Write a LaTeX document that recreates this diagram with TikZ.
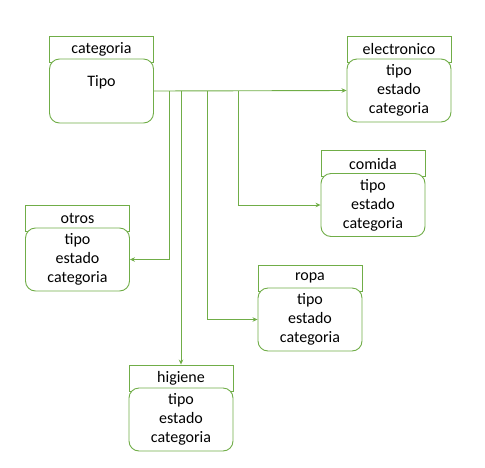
\documentclass[tikz,border=0pt]{standalone}
\usepackage{fontspec}
\setmainfont{Carlito}
\usepackage{xcolor}
\usetikzlibrary{arrows.meta}
\definecolor{verde}{HTML}{70AD47}
\tikzset{
  cabecera/.style={draw=verde, line width=0.9pt, fill=white, minimum width=104pt, minimum height=26pt, inner sep=0pt},
  cuerpo/.style={draw=verde, line width=0.9pt, fill=white, rounded corners=10pt, minimum width=104pt, minimum height=63pt, align=center, inner sep=0pt},
  enlace/.style={draw=verde, line width=0.9pt, -{Stealth[length=5pt,width=4.5pt]}}
}
\begin{document}
\begin{tikzpicture}[x=1pt, y=-1pt, font=\fontsize{16}{19}\selectfont]
        \useasboundingbox (0,0) rectangle (485,467);
        \node[cabecera] (hcat) at (101.5,49) {categoria};
        \node[cuerpo, minimum height=64pt] (cat) at (101.5,91) {};
        \node[anchor=north] (tipo) at (101.5,72) {Tipo};
        \foreach \nom/\x/\y/\titulo in {elec/399/90.5/electronico, comida/373/205/comida, otros/77.5/259.5/otros, ropa/310/319.5/ropa, hig/181/419.5/higiene} {
            \node[cabecera] (h\nom) at (\x,\y-41.5) {\titulo};
            \node[cuerpo] (\nom) at (\x,\y) {tipo\\estado\\categoria};
        }
        \coordinate (jo) at (169,91);
        \coordinate (jh) at (181,91);
        \coordinate (jr) at (207,91);
        \coordinate (jc) at (238,91);
        \draw[enlace] (cat.east) -- (elec.west);
        \draw[enlace] (jo) |- (otros.east);
        \draw[enlace] (jh) -- (hhig.north);
        \draw[enlace] (jr) |- (ropa.west);
        \draw[enlace] (jc) |- (comida.west);
    \end{tikzpicture}
\end{document}
